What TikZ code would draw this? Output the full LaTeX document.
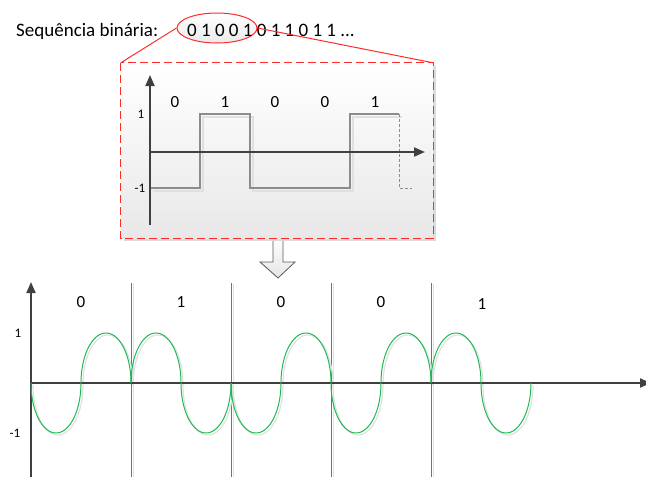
\documentclass[tikz,border=0pt]{standalone}
\usepackage{fontspec}
\setmainfont{Carlito}
\usetikzlibrary{arrows.meta,shapes.geometric}
\definecolor{axisgray}{HTML}{404040}
\definecolor{wavegray}{HTML}{8C8C8C}
\definecolor{wavegreen}{HTML}{1DB954}
\definecolor{boxred}{HTML}{FF2A2A}
\tikzset{
  axis/.style={draw=axisgray, line width=2pt, -{Triangle[length=11pt,width=9pt]}},
  bitlbl/.style={font=\fontsize{17}{20}\selectfont, text=black, inner sep=0pt},
  axlbl/.style={font=\fontsize{13}{15}\selectfont, text=black, inner sep=0pt},
  sqwave/.style={draw=wavegray, line width=1.4pt},
  sqshadow/.style={draw=black!12, line width=1.4pt},
  grnwave/.style={draw=wavegreen, line width=1pt},
  grnshadow/.style={draw=black!12, line width=1.2pt},
  divider/.style={draw=black!55, line width=0.8pt},
  divshadow/.style={draw=black!12, line width=1pt},
  redline/.style={draw=boxred, line width=1pt},
}
\begin{document}
\begin{tikzpicture}[x=1pt,y=-1pt]
\useasboundingbox (0,0) rectangle (646,477);
% ---- top text
\node[anchor=base west, inner sep=0pt, font=\fontsize{19}{22}\selectfont] (title) at (16,36) {Sequência binária:};
\node[ellipse, draw=boxred, line width=1pt, top color=white, bottom color=black!8, minimum width=80pt, minimum height=30pt, inner sep=0pt] (ell) at (217,28) {};
\node[anchor=base west, inner sep=0pt, font=\fontsize{19}{22}\selectfont] (seq) at (187,36) {0 1 0 0 1 0 1 1 0 1 1 ...};
% ---- block arrow
\draw[draw=black!65, line width=0.8pt, top color=white, bottom color=black!10]
  (273,236) -- (273,262) -- (260,262) -- (278,278) -- (295,262) -- (283,262) -- (283,236) -- cycle;
% ---- zoom box
\fill[black!14] (124,66) rectangle (436,241);
\node[rectangle, top color=white, bottom color=black!9,
      minimum width=312pt, minimum height=175pt, inner sep=0pt] (box) at (277,150.5) {};
\draw[draw=boxred, line width=1.1pt, dash pattern=on 8pt off 4pt] (box.north west) rectangle (box.south east);
\draw[redline] (ell.west) -- (box.north west);
\draw[redline] (ell.east) -- (box.north east);
% ---- inner square wave
\coordinate (iy0) at (150,225);
\coordinate (iy1) at (150,75);
\coordinate (ix0) at (150,152);
\coordinate (ix1) at (425,152);
\draw[sqshadow] (153,191) -- (203,191) -- (203,117) -- (253,117) -- (253,191) -- (353,191) -- (353,117) -- (402,117);
\draw[sqwave] (150,188) -- (200,188) -- (200,114) -- (250,114) -- (250,188) -- (350,188) -- (350,114) -- (399,114);
\draw[sqwave, line width=1pt, dash pattern=on 3pt off 2pt] (399,114) -- (399,188) -- (412,188);
\draw[axis] (iy0) -- (iy1);
\draw[axis] (ix0) -- (ix1);
\node[axlbl] (i1) at (141,114) {1};
\node[axlbl] (im1) at (140,188) {-1};
\foreach \xx/\b [count=\k] in {175/0,225/1,275/0,325/0,375/1}
  \node[bitlbl] (ib\k) at (\xx,102) {\b};
% ---- bottom plot
\foreach \xx in {131,231,331,431} {
  \draw[divshadow] (\xx+2.5,284) -- (\xx+2.5,477);
  \draw[divider] (\xx,283) -- (\xx,477);
}
\foreach \c/\s in {56/1,106/-1,156/-1,206/1,256/1,306/-1,356/1,406/-1,456/-1,506/1}
  \draw[grnshadow] plot[domain=0:180, samples=50] ({\c+2-25*cos(\x)},{385+\s*50*sin(\x)});
\coordinate (by0) at (31,477);
\coordinate (by1) at (31,282);
\coordinate (bx0) at (31,383);
\coordinate (bx1) at (651,383);
\draw[axis] (by0) -- (by1);
\draw[axis] (bx0) -- (bx1);
\foreach \c/\s in {56/1,106/-1,156/-1,206/1,256/1,306/-1,356/1,406/-1,456/-1,506/1}
  \draw[grnwave] plot[domain=0:180, samples=50] ({\c-25*cos(\x)},{383+\s*50*sin(\x)});
\node[axlbl] (b1) at (18,333) {1};
\node[axlbl] (bm1) at (15,433) {-1};
\foreach \xx/\b/\yy [count=\k] in {81/0/302,181/1/302,281/0/302,381/0/302,482/1/304}
  \node[bitlbl] (bb\k) at (\xx,\yy) {\b};
\end{tikzpicture}
\end{document}
